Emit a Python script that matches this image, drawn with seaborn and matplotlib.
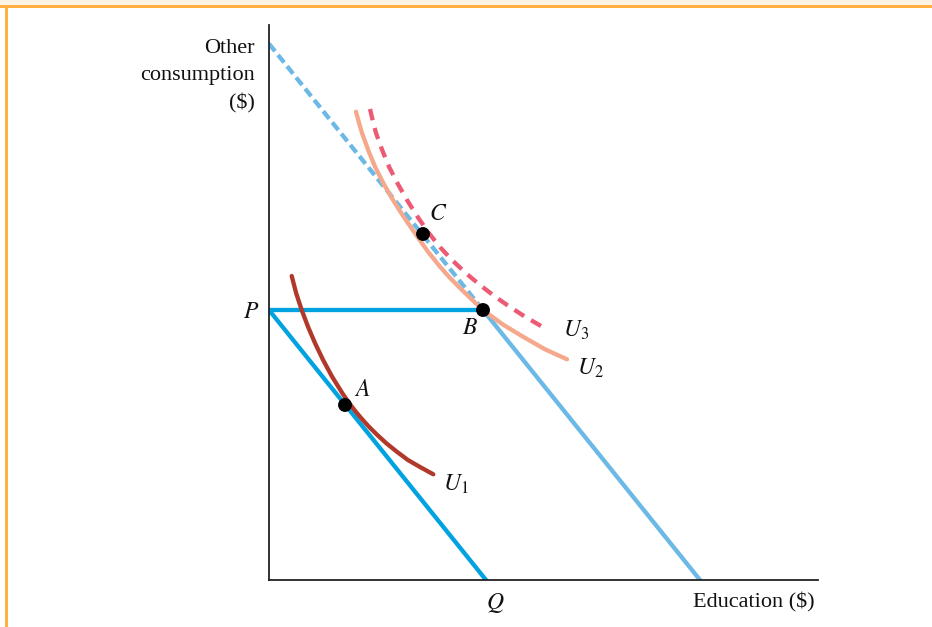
import matplotlib
matplotlib.use("Agg")
import matplotlib.pyplot as plt
from matplotlib.patches import Rectangle
import numpy as np
import seaborn as sns

# ---- budget constraints (education on x, other consumption on y) ----
P_LEVEL = 27.0          # income spent entirely on other consumption
Q_EDU = 21.7            # income spent entirely on education
SUBSIDY_EDU = 21.4      # education provided free (kink point B)
BUDGET_SLOPE = P_LEVEL / Q_EDU

orig_x = [0.0, Q_EDU]
orig_y = [P_LEVEL, 0.0]

flat_x = [0.0, SUBSIDY_EDU]
flat_y = [P_LEVEL, P_LEVEL]

shift_x = [SUBSIDY_EDU, SUBSIDY_EDU + Q_EDU]
shift_y = [P_LEVEL, 0.0]

ext_x = [0.0, SUBSIDY_EDU]
ext_y = [P_LEVEL + SUBSIDY_EDU * BUDGET_SLOPE, P_LEVEL]

# ---- indifference curves ----
u1_x = [2.27, 2.72, 3.27, 3.90, 4.61, 5.41, 6.31, 7.34, 7.91, 8.54, 9.23, 9.99,
        10.83, 11.74, 12.77, 13.89, 15.12, 16.43]
u1_y = [30.40, 28.67, 27.00, 25.33, 23.67, 22.00, 20.33, 18.67, 17.84, 17.00, 16.17, 15.33,
        14.50, 13.67, 12.84, 12.00, 11.29, 10.57]

u2_x = [8.7, 9.0, 9.3, 9.95, 10.6, 11.5, 12.4, 13.5, 14.6, 15.85, 17.1, 18.1, 19.1,
        20.25, 21.4, 23.4, 25.4, 27.6, 29.8]
u2_y = [46.83, 45.71, 44.70, 42.91, 41.33, 39.56, 38.00, 36.27, 34.67, 32.90, 31.33, 30.21, 29.20,
        28.08, 27.00, 25.54, 24.33, 23.07, 22.07]

u3_x = [10.1, 10.4, 10.7, 11.35, 12.0, 12.9, 13.8, 14.9, 16.0, 17.15, 18.3, 19.7, 21.1,
        22.6, 24.1, 25.65, 27.2]
u3_y = [47.10, 45.83, 44.70, 42.91, 41.33, 39.58, 38.00, 36.25, 34.67, 33.23, 32.00, 30.67, 29.50,
        28.34, 27.30, 26.30, 25.40]

# ---- chosen bundles ----
pt_names = ["A", "B", "C"]
pt_x = [7.6, SUBSIDY_EDU, 15.4]
pt_y = [17.5, P_LEVEL, 34.6]

BLUE = "#00a3e0"
LIGHT_BLUE = "#6cb9e6"
DARK_RED = "#b0392b"
SALMON = "#f5a88c"
PINK_RED = "#ec5a74"

sns.set_theme(style="white")
plt.rcParams["font.family"] = ["Liberation Serif", "DejaVu Serif"]
plt.rcParams["mathtext.fontset"] = "stix"

DPI = 100
fig = plt.figure(figsize=(9.32, 6.27), dpi=DPI)
fig.patch.set_facecolor("white")

# page frame: cream strip on top, orange rules along top and left
fig.add_artist(Rectangle((0, 1 - 6 / 627), 1, 6 / 627, transform=fig.transFigure,
                         facecolor="#fdf3e4", edgecolor="none", zorder=0))
fig.add_artist(Rectangle((0, 1 - 8 / 627), 1, 2.5 / 627, transform=fig.transFigure,
                         facecolor="#ffb040", edgecolor="none", zorder=1))
fig.add_artist(Rectangle((5 / 932, 0), 2.5 / 932, 1 - 6 / 627, transform=fig.transFigure,
                         facecolor="#ffb040", edgecolor="none", zorder=1))

ax = fig.add_axes([269 / 932, 47 / 627, 549 / 932, 555 / 627])
ax.set_xlim(0, 54.9)
ax.set_ylim(0, 55.5)
ax.set_facecolor("none")

LW = 3.1
common = dict(ax=ax, sort=False, estimator=None, lw=LW,
              solid_joinstyle="round", dash_joinstyle="round")


def fitted_dashes(xs, ys, on, off):
    """Stretch a dash pattern so the curve starts and ends on a full dash."""
    pix = ax.transData.transform(np.column_stack([xs, ys]))
    length_pt = np.hypot(*np.diff(pix, axis=0).T).sum() * 72 / DPI / LW
    n = max(1, round((length_pt - on) / (on + off)))
    k = length_pt / (n * (on + off) + on)
    return (0, (on * k, off * k))


# budget lines
sns.lineplot(x=ext_x, y=ext_y, color=LIGHT_BLUE,
             linestyle=fitted_dashes(ext_x, ext_y, 2.2, 1.1), zorder=2, **common)
sns.lineplot(x=shift_x, y=shift_y, color=LIGHT_BLUE, zorder=2, **common)
sns.lineplot(x=orig_x, y=orig_y, color=BLUE, zorder=2, **common)
sns.lineplot(x=flat_x, y=flat_y, color=BLUE, zorder=2, **common)

# indifference curves
sns.lineplot(x=u1_x, y=u1_y, color=DARK_RED, zorder=3, **common)
sns.lineplot(x=u2_x, y=u2_y, color=SALMON, zorder=3, **common)
sns.lineplot(x=u3_x, y=u3_y, color=PINK_RED,
             linestyle=fitted_dashes(u3_x, u3_y, 2.6, 1.8), zorder=4, **common)

# bundles
sns.scatterplot(x=pt_x, y=pt_y, ax=ax, color="black", s=100,
                edgecolor="none", zorder=5, legend=False)

# axes: only left and bottom spines, no ticks
for side in ("top", "right"):
    ax.spines[side].set_visible(False)
for side in ("left", "bottom"):
    ax.spines[side].set_color("#222222")
    ax.spines[side].set_linewidth(1.3)
ax.set_xticks([])
ax.set_yticks([])
ax.set_xlabel("")
ax.set_ylabel("")

TXT = 16
ax.text(-1.4, 50.4, "Other\nconsumption\n($)", ha="right", va="center",
        fontsize=TXT, linespacing=1.55, color="#111111")
ax.text(54.6, -2.2, "Education ($)", ha="right", va="center",
        fontsize=TXT, color="#111111")

labels = [
    (r"$P$", -1.8, 26.8, "center"),
    (r"$Q$", 22.6, -2.3, "center"),
    (r"$A$", 9.3, 19.0, "center"),
    (r"$B$", 20.1, 25.1, "center"),
    (r"$C$", 16.9, 36.6, "center"),
    (r"$U_1$", 17.4, 9.6, "left"),
    (r"$U_2$", 30.8, 21.2, "left"),
    (r"$U_3$", 29.4, 25.0, "left"),
]
for txt, x, y, ha in labels:
    ax.text(x, y, txt, ha=ha, va="center", fontsize=TXT + 1, color="#111111")

fig.savefig("out.png", dpi=DPI)
